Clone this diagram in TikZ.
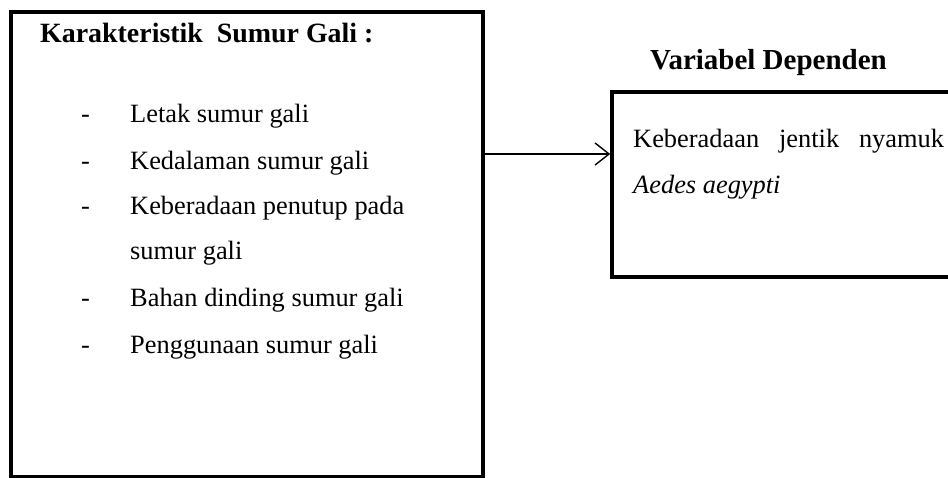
\documentclass[tikz,border=0pt]{standalone}
\usepackage{fontspec}
\setmainfont{Liberation Serif}
\usetikzlibrary{arrows.meta}
\begin{document}
\begin{tikzpicture}[x=1pt,y=-1pt,
  frame/.style={draw=black,line width=3.6pt,rectangle,inner sep=0pt},
  txt/.style={anchor=base west,inner sep=0pt,font=\fontsize{26.4}{30}\selectfont},
  ttl/.style={anchor=base west,inner sep=0pt,font=\fontsize{27.9}{30}\selectfont\bfseries},
  ttlb/.style={anchor=base west,inner sep=0pt,font=\fontsize{29}{30}\selectfont\bfseries},
  dashmark/.style={anchor=base west,inner sep=0pt,font=\fontsize{26.4}{30}\selectfont},
  link/.style={line width=1.4pt,-{Straight Barb[length=14pt,width=22pt,line width=1.4pt]}}]
\useasboundingbox (0,0) rectangle (948,478);
\clip (0,0) rectangle (948,478);
\fill[white] (0,0) rectangle (948,478);
% boxes
\node[frame,minimum width=472pt,minimum height=465pt] (L) at (247,244.5) {};
\node[frame,minimum width=350pt,minimum height=185pt] (R) at (787,184.5) {};
% titles
\node[ttl] (t1) at (40,43) {Karakteristik\hspace{0.25em} Sumur Gali :};
\node[ttlb] (t2) at (650,70) {Variabel Dependen};
% list
\node[dashmark] (d1) at (81,123) {-};
\node[txt] (i1) at (130,123) {Letak sumur gali};
\node[dashmark] (d2) at (81,170) {-};
\node[txt] (i2) at (130,170) {Kedalaman sumur gali};
\node[dashmark] (d3) at (81,215) {-};
\node[txt] (i3) at (130,215) {Keberadaan penutup pada};
\node[txt] (i3b) at (130,260) {sumur gali};
\node[dashmark] (d4) at (81,307) {-};
\node[txt] (i4) at (130,307) {Bahan dinding sumur gali};
\node[dashmark] (d5) at (81,353) {-};
\node[txt] (i5) at (130,353) {Penggunaan sumur gali};
% right text
\node[txt] (r1) at (633,148) {Keberadaan\hspace{0.5em} jentik\hspace{0.5em} nyamuk};
\node[txt] (r2) at (633,194) {\itshape Aedes aegypti};
% connector
\coordinate (ay) at (0,154);
\draw[link] (L.east |- ay) -- (R.west |- ay);
\end{tikzpicture}
\end{document}
